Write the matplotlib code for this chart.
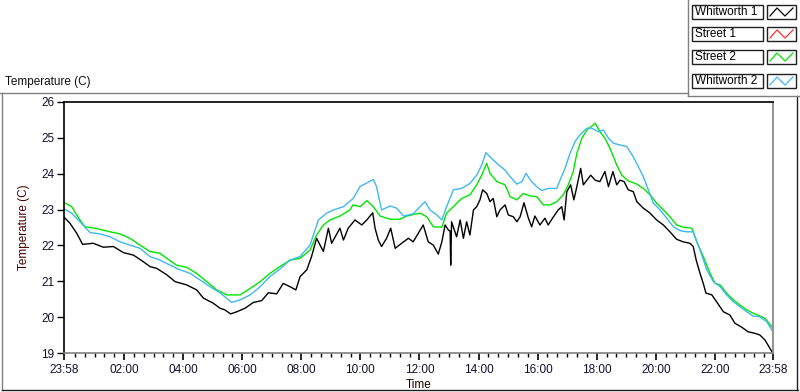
import matplotlib
matplotlib.use('Agg')
import matplotlib.pyplot as plt
import numpy as np
from matplotlib.lines import Line2D
from matplotlib.patches import Rectangle

plt.rcParams['font.family'] = ['Liberation Sans', 'DejaVu Sans']

# ---------------- data (hours since 23:58, temperature in C) ----------------
series_names = ["Whitworth 1", "Street 1", "Street 2", "Whitworth 2"]
series_colors = ["#000000", "#ff3030", "#00e600", "#40b8f0"]

whitworth1_t = [0, 0.2, 0.43, 0.63, 0.99, 1.33, 1.67, 2.01, 2.35, 2.68, 2.91, 3.14, 3.48, 3.76,
                4.15, 4.49, 4.72, 5.05, 5.28, 5.45, 5.64, 5.85, 6.13, 6.41, 6.69, 6.92, 7.20,
                7.42, 7.65, 7.85, 7.99, 8.22, 8.38, 8.55, 8.78, 8.95, 9.06, 9.34, 9.46, 9.62,
                9.85, 10.08, 10.25, 10.45, 10.53, 10.64, 10.75, 10.92, 11.06, 11.21, 11.43,
                11.66, 11.82, 12.00, 12.16, 12.33, 12.50, 12.67, 12.79, 12.90, 13.01, 13.07,
                13.09, 13.12, 13.29, 13.41, 13.52, 13.63, 13.74, 13.86, 13.97, 14.08, 14.17,
                14.31, 14.42, 14.53, 14.65, 14.76, 14.93, 15.04, 15.21, 15.33, 15.44, 15.57,
                15.72, 15.83, 15.94, 16.11, 16.28, 16.39, 16.56, 16.73, 16.85, 16.93, 17.02,
                17.15, 17.26, 17.36, 17.49, 17.58, 17.70, 17.83, 17.98, 18.14, 18.31, 18.43,
                18.58, 18.71, 18.82, 18.96, 19.10, 19.27, 19.39, 19.61, 19.84, 20.06, 20.29,
                20.51, 20.74, 20.96, 21.19, 21.30, 21.40, 21.53, 21.64, 21.73, 21.93, 22.09,
                22.32, 22.54, 22.71, 22.94, 23.16, 23.39, 23.56, 23.73, 23.96]
whitworth1_v = [22.79, 22.62, 22.34, 22.03, 22.06, 21.95, 21.97, 21.80, 21.73, 21.55, 21.41, 21.36,
                21.18, 20.99, 20.90, 20.76, 20.53, 20.39, 20.25, 20.20, 20.09, 20.15, 20.25,
                20.41, 20.46, 20.68, 20.65, 20.94, 20.85, 20.76, 21.13, 21.32, 21.69, 22.20,
                21.83, 22.48, 22.06, 22.48, 22.15, 22.48, 22.71, 22.57, 22.71, 22.91, 22.48,
                22.15, 21.97, 22.20, 22.48, 21.92, 22.06, 22.20, 22.10, 22.35, 22.57, 22.10,
                22.01, 21.76, 22.10, 22.57, 22.43, 22.40, 21.45, 22.66, 22.24, 22.71, 22.20,
                22.66, 22.29, 22.99, 23.08, 23.27, 23.55, 23.45, 23.22, 23.31, 22.80, 22.99,
                23.13, 22.85, 22.80, 22.66, 22.80, 23.19, 22.76, 22.52, 22.82, 22.57, 22.76,
                22.57, 22.79, 22.99, 23.08, 22.71, 23.50, 23.69, 23.27, 23.64, 24.15, 23.69,
                23.82, 23.96, 23.82, 23.78, 24.06, 23.64, 24.06, 23.69, 23.82, 23.78, 23.55,
                23.50, 23.22, 23.04, 22.90, 22.71, 22.57, 22.38, 22.17, 22.10, 22.06, 21.97,
                21.59, 21.22, 20.94, 20.67, 20.62, 20.43, 20.15, 20.06, 19.83, 19.72, 19.59,
                19.55, 19.50, 19.36, 19.04]

street1_t = []
street1_v = []

street2_t = [0, 0.26, 0.54, 0.71, 1.05, 1.56, 1.90, 2.23, 2.57, 2.91, 3.25, 3.48, 3.81, 4.15,
             4.49, 4.83, 5.17, 5.51, 5.96, 6.30, 6.64, 6.97, 7.31, 7.65, 7.99, 8.33, 8.55,
             8.78, 9.00, 9.34, 9.68, 9.78, 10.02, 10.25, 10.47, 10.70, 11.04, 11.37, 11.60,
             12.05, 12.28, 12.50, 12.79, 12.95, 13.18, 13.46, 13.74, 13.97, 14.14, 14.31,
             14.42, 14.65, 14.93, 15.10, 15.33, 15.55, 15.78, 16.00, 16.23, 16.45, 16.68,
             16.90, 17.07, 17.24, 17.36, 17.53, 17.70, 17.92, 17.98, 18.14, 18.31, 18.48,
             18.60, 18.71, 18.88, 19.10, 19.39, 19.61, 19.84, 20.06, 20.29, 20.51, 20.74,
             20.96, 21.25, 21.42, 21.64, 21.87, 22.04, 22.21, 22.43, 22.66, 22.88, 23.11,
             23.33, 23.56, 23.73, 23.96]
street2_v = [23.20, 23.08, 22.71, 22.52, 22.48, 22.38, 22.32, 22.20, 22.01, 21.83, 21.78, 21.64,
             21.45, 21.39, 21.22, 20.99, 20.76, 20.62, 20.62, 20.80, 20.99, 21.22, 21.41,
             21.59, 21.64, 21.87, 22.29, 22.57, 22.71, 22.82, 22.99, 23.13, 23.08, 23.25,
             23.08, 22.82, 22.73, 22.73, 22.82, 22.90, 22.80, 22.52, 22.51, 22.90, 23.08,
             23.31, 23.41, 23.69, 23.96, 24.29, 24.01, 23.78, 23.69, 23.36, 23.27, 23.45,
             23.38, 23.36, 23.13, 23.13, 23.22, 23.41, 23.69, 24.06, 24.57, 24.99, 25.22,
             25.36, 25.41, 25.17, 24.99, 24.71, 24.47, 24.24, 23.96, 23.80, 23.71, 23.59,
             23.41, 23.18, 22.99, 22.80, 22.57, 22.51, 22.48, 22.10, 21.69, 21.22, 20.94,
             20.90, 20.67, 20.48, 20.34, 20.20, 20.11, 20.03, 19.97, 19.73]

whitworth2_t = [0, 0.26, 0.54, 0.88, 1.22, 1.56, 1.90, 2.23, 2.57, 2.91, 3.25, 3.59, 3.93, 4.27,
                4.60, 4.94, 5.28, 5.68, 5.96, 6.30, 6.64, 6.97, 7.31, 7.65, 7.99, 8.33, 8.61,
                8.89, 9.12, 9.46, 9.79, 10.02, 10.47, 10.58, 10.75, 11.04, 11.26, 11.49, 11.82,
                12.05, 12.22, 12.39, 12.62, 12.79, 12.95, 13.18, 13.46, 13.74, 13.97, 14.14,
                14.28, 14.42, 14.65, 14.93, 15.10, 15.33, 15.50, 15.64, 15.83, 16.00, 16.17,
                16.39, 16.68, 16.79, 16.96, 17.13, 17.30, 17.46, 17.70, 17.86, 18.09, 18.26,
                18.43, 18.60, 18.82, 19.05, 19.27, 19.44, 19.61, 19.78, 19.95, 20.18, 20.40,
                20.63, 20.86, 21.08, 21.30, 21.53, 21.76, 21.98, 22.21, 22.43, 22.66, 22.88,
                23.11, 23.33, 23.56, 23.79, 23.96]
whitworth2_v = [23.02, 22.90, 22.66, 22.36, 22.32, 22.24, 22.10, 22.01, 21.92, 21.69, 21.59, 21.45,
                21.32, 21.22, 21.04, 20.85, 20.68, 20.41, 20.48, 20.62, 20.85, 21.13, 21.34,
                21.59, 21.69, 22.01, 22.71, 22.90, 22.99, 23.08, 23.31, 23.64, 23.84, 23.64,
                22.99, 23.10, 23.04, 22.82, 22.88, 23.08, 23.22, 22.99, 22.85, 22.71, 23.08,
                23.55, 23.59, 23.73, 23.96, 24.24, 24.59, 24.47, 24.29, 24.10, 23.92, 23.71,
                23.78, 24.01, 23.78, 23.64, 23.53, 23.59, 23.59, 23.82, 24.15, 24.57, 24.90,
                25.08, 25.27, 25.27, 25.17, 25.22, 24.99, 24.85, 24.80, 24.76, 24.47, 24.20,
                23.92, 23.55, 23.18, 22.99, 22.76, 22.52, 22.41, 22.38, 22.38, 21.87, 21.32,
                20.99, 20.85, 20.62, 20.43, 20.29, 20.15, 20.03, 20.01, 19.87, 19.64]

x_tick_hours = [0, 2 + 2/60, 4 + 2/60, 6 + 2/60, 8 + 2/60, 10 + 2/60, 12 + 2/60, 14 + 2/60,
                16 + 2/60, 18 + 2/60, 20 + 2/60, 22 + 2/60, 24]
x_tick_labels = ["23:58", "02:00", "04:00", "06:00", "08:00", "10:00", "12:00", "14:00",
                 "16:00", "18:00", "20:00", "22:00", "23:58"]
y_ticks = [19, 20, 21, 22, 23, 24, 25, 26]

# ---------------- figure ----------------
W, H = 800, 392
fig = plt.figure(figsize=(W / 100, H / 100), dpi=100)
fig.patch.set_facecolor('white')

def fx(px):
    return px / W

def fy(py):
    return 1 - py / H

ax = fig.add_axes([fx(64), fy(353), fx(773) - fx(64), fy(102) - fy(353)])

all_t = [whitworth1_t, street1_t, street2_t, whitworth2_t]
all_v = [whitworth1_v, street1_v, street2_v, whitworth2_v]
for t, v, c in zip(all_t, all_v, series_colors):
    ax.plot(t, v, color=c, lw=1.0)

ax.set_xlim(0, 24)
ax.set_ylim(19, 26)
ax.set_yticks(y_ticks)
ax.set_yticklabels([str(v) for v in y_ticks])
ax.set_xticks(x_tick_hours)
ax.set_xticklabels(x_tick_labels)
ax.set_xticks(np.arange(2/60 + 1/3, 24, 1/3), minor=True)
ax.tick_params(axis='y', direction='out', length=5, width=1, colors='black', labelsize=8.5, pad=2)
ax.tick_params(axis='x', which='major', direction='out', length=5, width=1.2, colors='black',
               labelsize=8.5, pad=3)
ax.tick_params(axis='x', which='minor', direction='out', length=3, width=1, colors='black')
for lbl in ax.get_xticklabels() + ax.get_yticklabels():
    lbl.set_color('#10102a')

ax.spines['left'].set_color('black')
ax.spines['top'].set_color('black')
ax.spines['right'].set_color('#808080')
ax.spines['bottom'].set_color('#808080')
for s in ax.spines.values():
    s.set_linewidth(1.2)

ax.set_ylabel('Temperature (C)', fontsize=8.5, color='#400000')
ax.yaxis.set_label_coords((30 - 64) / 709, 0.5)
ax.set_xlabel('Time', fontsize=8.5, color='#200000')
ax.xaxis.set_label_coords(0.5, (353 - 385) / 251)
ax.xaxis.label.set_va('center')

fig.text(fx(5), fy(82), 'Temperature (C)', fontsize=8.5, ha='left', va='center', color='#101010')

# outer frame
frame = [((0, 93), (688, 93), '#808080'),
         ((2, 93), (2, 390), '#808080'),
         ((2, 390), (798, 390), '#202020'),
         ((797, 96), (797, 390), '#202020'),
         ((688, 0), (688, 96), '#808080'),
         ((688, 96), (800, 96), '#808080')]
for (x0, y0), (x1, y1), c in frame:
    fig.add_artist(Line2D([fx(x0), fx(x1)], [fy(y0), fy(y1)], color=c, lw=1.0))

# legend
row_tops = [5, 27, 50, 74]
row_h = 14
for name, c, top in zip(series_names, series_colors, row_tops):
    fig.add_artist(Rectangle((fx(692), fy(top + row_h)), fx(763) - fx(692), fy(top) - fy(top + row_h),
                             facecolor='white', edgecolor='#202020', lw=1.0))
    fig.add_artist(Rectangle((fx(767), fy(top + row_h)), fx(796) - fx(767), fy(top) - fy(top + row_h),
                             facecolor='white', edgecolor='#202020', lw=1.0))
    fig.text(fx(695), fy(top + row_h / 2), name, fontsize=8.5, ha='left', va='center', color='black')
    zx = [770, 777, 785, 793]
    zy = [top + 11, top + 3, top + 11, top + 3]
    fig.add_artist(Line2D([fx(v) for v in zx], [fy(v) for v in zy], color=c, lw=0.9))

fig.savefig('out.png', dpi=100, facecolor='white')
